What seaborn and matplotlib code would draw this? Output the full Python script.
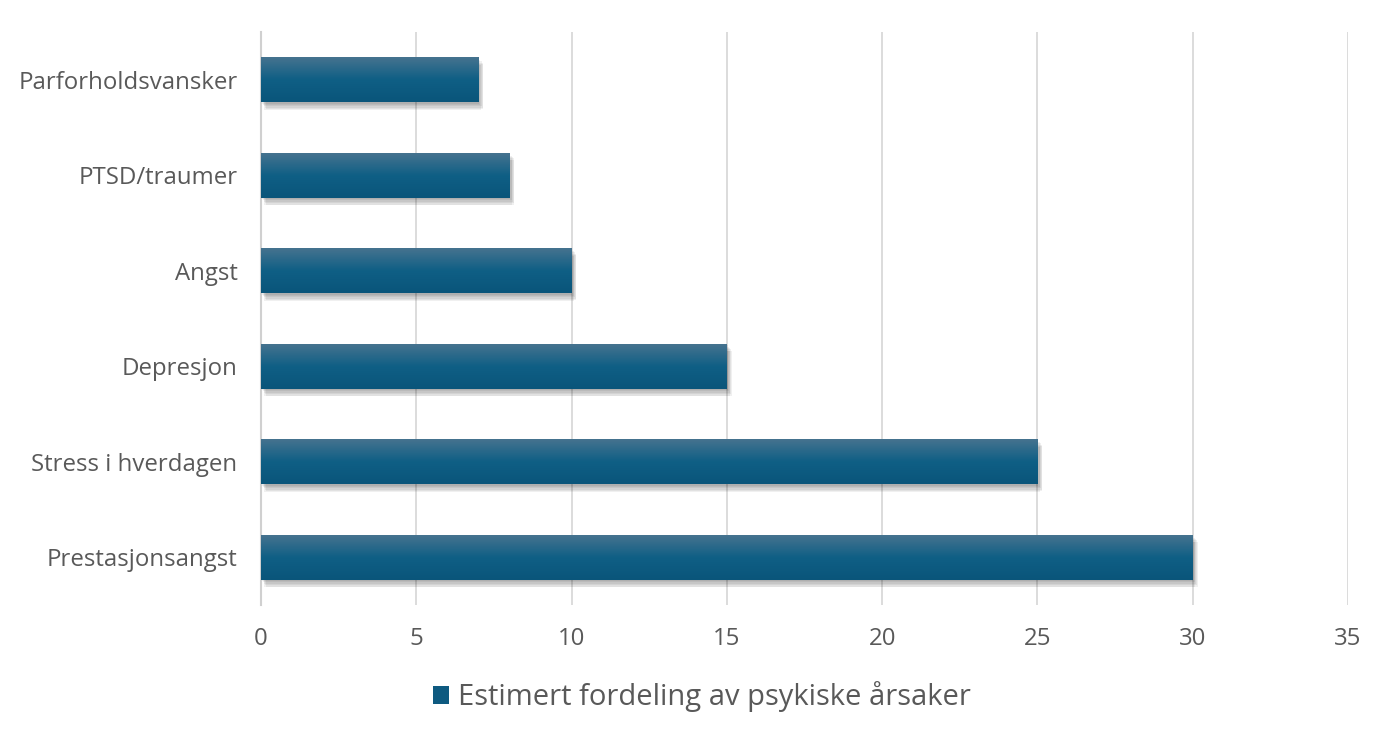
import numpy as np
import pandas as pd
import matplotlib
matplotlib.use("Agg")
import matplotlib.pyplot as plt
import matplotlib.patheffects as pe
from matplotlib.colors import LinearSegmentedColormap
from matplotlib.patches import Patch
import seaborn as sns

categories = ["Parforholdsvansker", "PTSD/traumer", "Angst", "Depresjon",
              "Stress i hverdagen", "Prestasjonsangst"]
values = [7, 8, 10, 15, 25, 30]
series_name = "Estimert fordeling av psykiske årsaker"
x_ticks = [0, 5, 10, 15, 20, 25, 30, 35]

df = pd.DataFrame({"kategori": categories, "verdi": values})

sns.set_theme(style="white")
plt.rcParams["font.family"] = ["Open Sans", "DejaVu Sans"]
text_color = "#595959"

fig = plt.figure(figsize=(13.96, 7.48), dpi=100)
ax = fig.add_axes([261/1396, 1 - 605/748, (1348-261)/1396, (605-32)/748])

bar_color = "#0e5a80"
sns.barplot(data=df, x="verdi", y="kategori", orient="h", color=bar_color,
            width=0.47, ax=ax, saturation=1, zorder=3)

cmap = LinearSegmentedColormap.from_list("g", ["#46738f", "#0f5f85", "#0a557a"])
grad = np.linspace(0, 1, 256).reshape(-1, 1)
shadow = []
for off in [(0.5, -1), (1.5, -2), (2.5, -3), (3, -4), (3.5, -5), (2, -5.5)]:
    shadow.append(pe.SimplePatchShadow(offset=off, shadow_rgbFace="#000000", alpha=0.06))
for p in ax.patches:
    p.set_edgecolor("none")
    p.set_path_effects(shadow + [pe.Normal()])
    x0, y0 = p.get_x(), p.get_y()
    w, h = p.get_width(), p.get_height()
    im = ax.imshow(grad, cmap=cmap, aspect="auto", extent=(x0, x0 + w, y0 + h, y0),
                   origin="upper", zorder=4, interpolation="bilinear")
    im.set_clip_path(p)

ax.set_xlim(0, 35)
ax.set_ylim(5.5, -0.5)
ax.set_xticks(x_ticks)
ax.set_xticklabels([str(t) for t in x_ticks])
ax.grid(axis="x", color="#d9d9d9", linewidth=1.3, zorder=0)
ax.set_axisbelow(True)
for s in ["top", "right", "bottom"]:
    ax.spines[s].set_visible(False)
ax.spines["left"].set_color("#d0d0d0")
ax.spines["left"].set_linewidth(1.5)
ax.spines["left"].set_zorder(1)
ax.set_xlabel("")
ax.set_ylabel("")
ax.tick_params(axis="both", length=0, colors=text_color, labelsize=17.3)
ax.tick_params(axis="y", pad=17)
ax.tick_params(axis="x", pad=16)

handles = [Patch(facecolor="#0e5a80", edgecolor="none", label=series_name)]
fig.legend(handles=handles, loc="center", bbox_to_anchor=(702/1396, 1 - 697/748),
           frameon=False, fontsize=21, handlelength=0.55, handleheight=0.55,
           handletextpad=0.3, labelcolor=text_color)

fig.savefig("out.png", dpi=100)
